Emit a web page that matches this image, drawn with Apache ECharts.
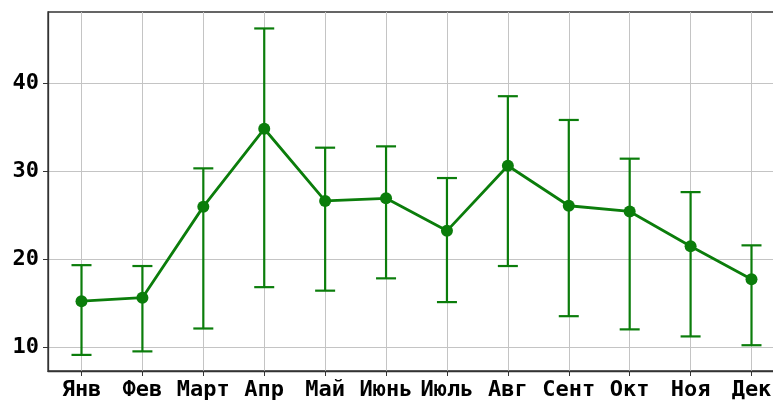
<!DOCTYPE html>
<html>
<head>
<meta charset="utf-8">
<script src="https://cdn.jsdelivr.net/npm/echarts@6/dist/echarts.min.js"></script>
<style>html,body{margin:0;padding:0;background:#fff;}#c{width:773px;height:400px;}</style>
</head>
<body>
<div id="c"></div>
<script>
const months = ['Янв','Фев','Март','Апр','Май','Июнь','Июль','Авг','Сент','Окт','Ноя','Дек'];
const means  = [15.2, 15.6, 25.95, 34.8, 26.6, 26.9, 23.2, 30.6, 26.05, 25.4, 21.45, 17.7];
const uppers = [19.3, 19.2, 30.3, 46.2, 32.65, 32.8, 29.2, 38.5, 35.8, 31.4, 27.6, 21.55];
const lowers = [9.1, 9.5, 12.1, 16.8, 16.4, 17.8, 15.1, 19.2, 13.5, 12.0, 11.2, 10.2];
const yTicks = [10, 20, 30, 40];

const idx = months.map((m, i) => i);
const lineData = means.map((v, i) => [i, v]);
const errData = means.map((v, i) => [i, lowers[i], uppers[i]]);

const GREEN = '#0b7d0b';
const FONT = 'DejaVu Sans Mono';

const chart = echarts.init(document.getElementById('c'), null, {renderer: 'canvas'});
chart.setOption({
  animation: false,
  backgroundColor: '#fff',
  grid: {left: 48, top: 12, width: 737, height: 359, outerBoundsMode: 'none', containLabel: false, show: true, borderColor: '#333', borderWidth: 1.3, backgroundColor: 'transparent'},
  xAxis: {
    type: 'value', min: -0.55, max: 11.55,
    axisLine: {show: true, onZero: false, lineStyle: {color: '#333', width: 1.3}},
    axisTick: {show: true, customValues: idx, length: 5, inside: false, lineStyle: {color: '#333', width: 1}},
    axisLabel: {customValues: idx, formatter: v => months[Math.round(v)], fontFamily: FONT, fontWeight: 'bold', fontSize: 22, color: '#000', margin: 8},
    splitLine: {show: true, lineStyle: {color: '#c4c4c4', width: 1}}
  },
  yAxis: {
    type: 'value', min: 7.27, max: 48.07,
    axisLine: {show: true, onZero: false, lineStyle: {color: '#333', width: 1.3}},
    axisTick: {show: true, customValues: yTicks, length: 5, inside: false, lineStyle: {color: '#333', width: 1}},
    axisLabel: {customValues: yTicks, fontFamily: FONT, fontWeight: 'bold', fontSize: 22, color: '#000', margin: 9, padding: [6, 0, 0, 0]},
    splitLine: {show: true, lineStyle: {color: '#c4c4c4', width: 1}}
  },
  series: [
    {
      type: 'custom',
      data: errData,
      z: 2,
      renderItem: function (params, api) {
        const x = api.value(0);
        const lo = api.coord([x, api.value(1)]);
        const hi = api.coord([x, api.value(2)]);
        const cap = 10;
        const style = {stroke: GREEN, lineWidth: 2.2};
        return {
          type: 'group',
          children: [
            {type: 'line', shape: {x1: lo[0], y1: lo[1], x2: hi[0], y2: hi[1]}, style: style},
            {type: 'line', shape: {x1: lo[0] - cap, y1: lo[1], x2: lo[0] + cap, y2: lo[1]}, style: style},
            {type: 'line', shape: {x1: hi[0] - cap, y1: hi[1], x2: hi[0] + cap, y2: hi[1]}, style: style}
          ]
        };
      }
    },
    {
      type: 'line',
      data: lineData,
      z: 3,
      symbol: 'circle',
      symbolSize: 12,
      lineStyle: {color: GREEN, width: 2.8},
      itemStyle: {color: GREEN}
    }
  ]
});
</script>
</body>
</html>
